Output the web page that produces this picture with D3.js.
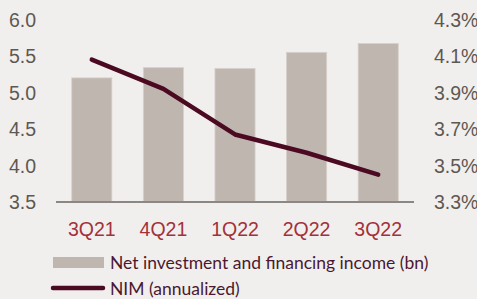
<!DOCTYPE html>
<html>
<head>
<meta charset="utf-8">
<title>NII and NIM</title>
<script src="https://d3js.org/d3.v7.min.js"></script>
<style>
  body { margin: 0; background: #f1efed; }
  svg { display: block; font-family: Lato, "Open Sans", sans-serif; }
</style>
</head>
<body>
<div id="chart"></div>
<script>
// data
var quarters = ["3Q21", "4Q21", "1Q22", "2Q22", "3Q22"];
var income = [5.20, 5.34, 5.33, 5.55, 5.67];   // bn
var nim = [4.08, 3.92, 3.67, 3.57, 3.45];      // %
var leftTicks = [3.5, 4.0, 4.5, 5.0, 5.5, 6.0];
var rightTicks = [3.3, 3.5, 3.7, 3.9, 4.1, 4.3];

var width = 477, height = 299;
var plotLeft = 56, plotRight = 414, plotTop = 19.5, plotBottom = 202;

var svg = d3.select("#chart").append("svg")
  .attr("width", width)
  .attr("height", height);

svg.append("rect").attr("width", width).attr("height", height).attr("fill", "#f1efed");

var x = d3.scaleBand().domain(quarters).range([plotLeft, plotRight]).paddingInner(0.44).paddingOuter(0.22);
var y = d3.scaleLinear().domain([3.5, 6.0]).range([plotBottom, plotTop]);
var y2 = d3.scaleLinear().domain([3.3, 4.3]).range([plotBottom, plotTop]);

// bars
svg.selectAll("rect.bar")
  .data(income)
  .enter().append("rect")
  .attr("class", "bar")
  .attr("x", function(d, i) { return x(quarters[i]); })
  .attr("y", function(d) { return y(d); })
  .attr("width", x.bandwidth())
  .attr("height", function(d) { return plotBottom - y(d); })
  .attr("fill", "#bfb6b0")
  .attr("stroke", "#d6cfca")
  .attr("stroke-width", 0.8);

// baseline
svg.append("line")
  .attr("x1", plotLeft).attr("x2", plotRight)
  .attr("y1", plotBottom).attr("y2", plotBottom)
  .attr("stroke", "#8c8783").attr("stroke-width", 2);

// left axis
var yAxis = svg.append("g")
  .attr("transform", "translate(36,0)")
  .call(d3.axisLeft(y).tickValues(leftTicks).tickFormat(d3.format(".1f")).tickSize(0).tickPadding(0));
yAxis.select(".domain").remove();
yAxis.selectAll("text").attr("fill", "#5e5852").style("font-size", "19.5px").attr("dy", "0.34em");

// right axis
var y2Axis = svg.append("g")
  .attr("transform", "translate(434,0)")
  .call(d3.axisRight(y2).tickValues(rightTicks).tickFormat(function(d) { return d.toFixed(1) + "%"; }).tickSize(0).tickPadding(0));
y2Axis.select(".domain").remove();
y2Axis.selectAll("text").attr("fill", "#5e5852").style("font-size", "19.5px").attr("dy", "0.34em");

// x axis labels
var xAxis = svg.append("g")
  .attr("transform", "translate(0," + plotBottom + ")")
  .call(d3.axisBottom(x).tickSize(0).tickPadding(0));
xAxis.select(".domain").remove();
xAxis.selectAll("text").attr("fill", "#a3313a").style("font-size", "19.5px").attr("dy", "0").attr("y", 34);

// NIM line
var line = d3.line()
  .x(function(d, i) { return x(quarters[i]) + x.bandwidth() / 2; })
  .y(function(d) { return y2(d); });

svg.append("path")
  .datum(nim)
  .attr("d", line)
  .attr("fill", "none")
  .attr("stroke", "#4b0a22")
  .attr("stroke-width", 4.5)
  .attr("stroke-linecap", "round")
  .attr("stroke-linejoin", "round");

// legend
var legend = svg.append("g");
legend.append("rect")
  .attr("x", 53).attr("y", 257).attr("width", 51).attr("height", 11)
  .attr("fill", "#bfb6b0");
legend.append("line")
  .attr("x1", 53).attr("x2", 103).attr("y1", 288).attr("y2", 288)
  .attr("stroke", "#4b0a22").attr("stroke-width", 4.5).attr("stroke-linecap", "round");
legend.append("text")
  .attr("x", 110).attr("y", 262.5).attr("dy", "0.35em")
  .attr("fill", "#4a1830").style("font-size", "17.5px")
  .text("Net investment and financing income (bn)");
legend.append("text")
  .attr("x", 110).attr("y", 288.5).attr("dy", "0.35em")
  .attr("fill", "#4a1830").style("font-size", "17.5px")
  .text("NIM (annualized)");
</script>
</body>
</html>
